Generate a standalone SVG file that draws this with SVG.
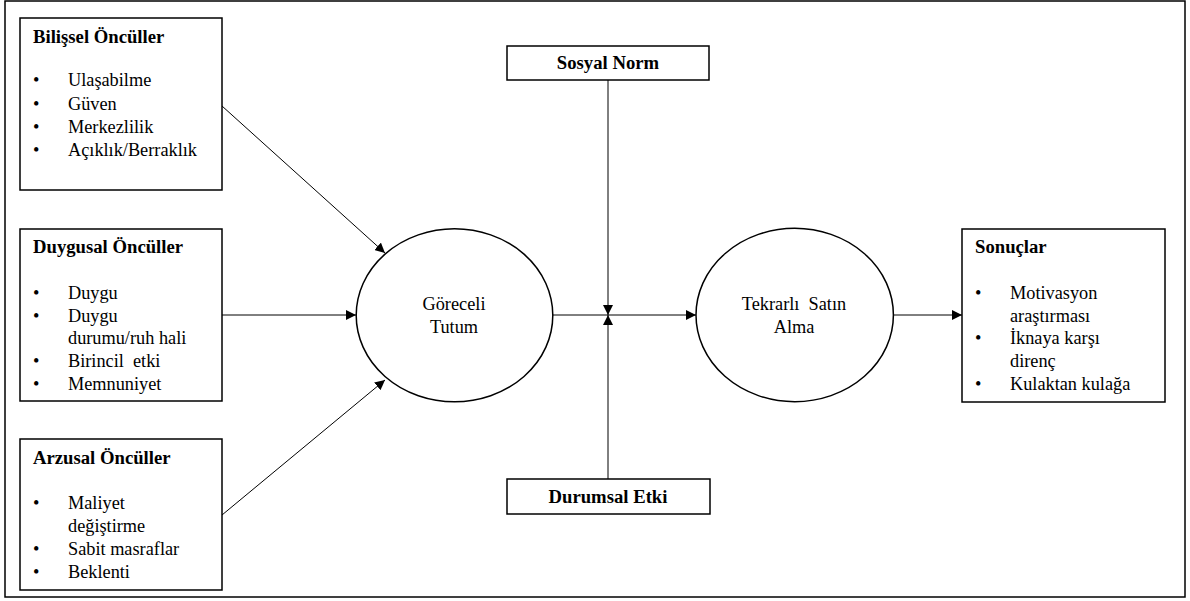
<svg xmlns="http://www.w3.org/2000/svg" width="1190" height="601" viewBox="0 0 1190 601">
<defs>
<style>
.box{fill:#fff;stroke:#000;stroke-width:1.5}
.ell{fill:#fff;stroke:#000;stroke-width:1.5}
.ln{stroke:#000;stroke-width:1;fill:none}
.hd{font-family:"Liberation Serif","Times New Roman",serif;font-weight:bold;font-size:18.7px;fill:#000}
.tx{font-family:"Liberation Serif","Times New Roman",serif;font-size:18.3px;fill:#000}
.mid{text-anchor:middle}
</style>
<marker id="ah" viewBox="0 0 10 10" refX="10" refY="5" markerWidth="10" markerHeight="10" markerUnits="userSpaceOnUse" orient="auto">
<path d="M0,0 L10,5 L0,10 Z" fill="#000"/>
</marker>
</defs>
<rect x="0" y="0" width="1190" height="601" fill="#fff"/>
<rect x="5" y="1" width="1180" height="596" fill="none" stroke="#000" stroke-width="1.5"/>

<g id="connectors">
<line class="ln" x1="222" y1="106" x2="385" y2="253" marker-end="url(#ah)"/>
<line class="ln" x1="222" y1="315" x2="356" y2="315" marker-end="url(#ah)"/>
<line class="ln" x1="222" y1="515" x2="385" y2="380" marker-end="url(#ah)"/>
<line class="ln" x1="553" y1="315" x2="696" y2="315" marker-end="url(#ah)"/>
<line class="ln" x1="608" y1="80" x2="608" y2="315" marker-end="url(#ah)"/>
<line class="ln" x1="608" y1="479" x2="608" y2="315" marker-end="url(#ah)"/>
<line class="ln" x1="893" y1="315" x2="962" y2="315" marker-end="url(#ah)"/>
</g>

<g id="bilissel">
<rect class="box" x="20" y="18" width="202" height="172"/>
<text class="hd" x="33" y="43">Bilişsel Öncüller</text>
<text class="tx" x="33" y="86">•</text><text class="tx" x="68" y="86">Ulaşabilme</text>
<text class="tx" x="33" y="110">•</text><text class="tx" x="68" y="110">Güven</text>
<text class="tx" x="33" y="133">•</text><text class="tx" x="68" y="133">Merkezlilik</text>
<text class="tx" x="33" y="156">•</text><text class="tx" x="68" y="156">Açıklık/Berraklık</text>
</g>

<g id="duygusal">
<rect class="box" x="20" y="229" width="202" height="172"/>
<text class="hd" x="33" y="253">Duygusal Öncüller</text>
<text class="tx" x="33" y="299">•</text><text class="tx" x="68" y="299">Duygu</text>
<text class="tx" x="33" y="322">•</text><text class="tx" x="68" y="322">Duygu</text>
<text class="tx" x="68" y="344">durumu/ruh hali</text>
<text class="tx" x="33" y="367">•</text><text class="tx" x="68" y="367" xml:space="preserve">Birincil  etki</text>
<text class="tx" x="33" y="390">•</text><text class="tx" x="68" y="390">Memnuniyet</text>
</g>

<g id="arzusal">
<rect class="box" x="20" y="439" width="202" height="151"/>
<text class="hd" x="33" y="464">Arzusal Öncüller</text>
<text class="tx" x="33" y="509">•</text><text class="tx" x="68" y="509">Maliyet</text>
<text class="tx" x="68" y="532">değiştirme</text>
<text class="tx" x="33" y="555">•</text><text class="tx" x="68" y="555">Sabit masraflar</text>
<text class="tx" x="33" y="578">•</text><text class="tx" x="68" y="578">Beklenti</text>
</g>

<g id="sosyal-norm">
<rect class="box" x="507" y="46" width="202" height="34"/>
<text class="hd mid" x="608" y="69">Sosyal Norm</text>
</g>

<g id="durumsal-etki">
<rect class="box" x="507" y="479" width="203" height="35"/>
<text class="hd mid" x="608" y="503">Durumsal Etki</text>
</g>

<g id="goreceli-tutum">
<ellipse class="ell" cx="454.5" cy="315.3" rx="98.3" ry="86.5"/>
<text class="tx mid" x="454" y="310">Göreceli</text>
<text class="tx mid" x="454" y="333">Tutum</text>
</g>

<g id="tekrarli-satin-alma">
<ellipse class="ell" cx="794.7" cy="315" rx="98.7" ry="86.7"/>
<text class="tx mid" x="794" y="310" xml:space="preserve">Tekrarlı  Satın</text>
<text class="tx mid" x="794" y="333">Alma</text>
</g>

<g id="sonuclar">
<rect class="box" x="962" y="229" width="203" height="173"/>
<text class="hd" x="975" y="253">Sonuçlar</text>
<text class="tx" x="975" y="299">•</text><text class="tx" x="1010" y="299">Motivasyon</text>
<text class="tx" x="1010" y="322">araştırması</text>
<text class="tx" x="975" y="344">•</text><text class="tx" x="1010" y="344">İknaya karşı</text>
<text class="tx" x="1010" y="367">direnç</text>
<text class="tx" x="975" y="390">•</text><text class="tx" x="1010" y="390">Kulaktan kulağa</text>
</g>
</svg>
